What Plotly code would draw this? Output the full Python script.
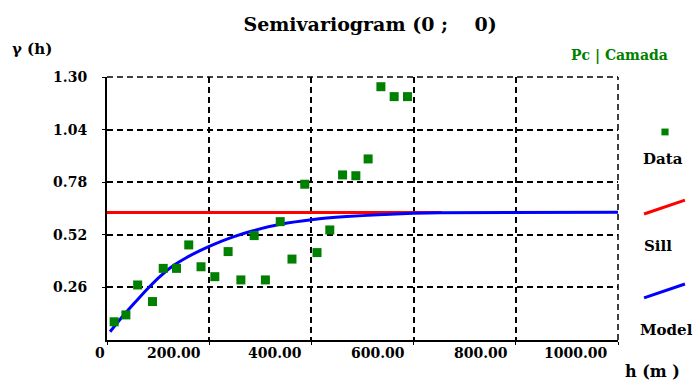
import plotly.graph_objects as go

# ---- data ----
lag_h = [14, 37, 60, 89, 110, 136, 160, 184, 211, 237, 262, 288, 310, 339,
         362, 387, 411, 436, 461, 487, 511, 536, 562, 588]
gamma_data = [0.090, 0.124, 0.272, 0.190, 0.354, 0.354, 0.470, 0.362, 0.313,
              0.437, 0.297, 0.516, 0.297, 0.585, 0.400, 0.770, 0.432, 0.544,
              0.816, 0.812, 0.895, 1.252, 1.203, 1.203]

sill_h = [0, 655]
sill_gamma = [0.63, 0.63]

model_h = [6, 25, 51, 78, 104, 130, 156, 182, 208, 247, 286, 339, 404, 469,
           531, 600, 652, 1000]
model_gamma = [0.041, 0.100, 0.175, 0.250, 0.315, 0.368, 0.408, 0.442, 0.472,
               0.510, 0.540, 0.572, 0.596, 0.610, 0.619, 0.626, 0.629, 0.631]

x_ticks = [0, 200, 400, 600, 800, 1000]
x_tick_labels = ["0", "200.00", "400.00", "600.00", "800.00", "1000.00"]
y_ticks = [0.26, 0.52, 0.78, 1.04, 1.30]
y_tick_labels = ["0.26", "0.52", "0.78", "1.04", "1.30"]

title_text = "Semivariogram (0 ;\u00a0\u00a0\u00a0\u00a00)"
y_label = "γ (h)"
x_label = "h (m )"
subtitle = "Pc | Camada"
legend_names = ["Data", "Sill", "Model"]

# ---- styles ----
FONT = "DejaVu Serif"
GREEN = "#008000"
RED = "#ff0000"
BLUE = "#0000ff"
GRID_DASH = "6px,4px"
x_label_shift = [0, -6, -7, -7, -6, -8]

fig = go.Figure()
fig.add_trace(go.Scatter(x=sill_h, y=sill_gamma, mode="lines",
                         line=dict(color=RED, width=3), name=legend_names[1]))
fig.add_trace(go.Scatter(x=model_h, y=model_gamma, mode="lines",
                         line=dict(color=BLUE, width=3, shape="spline", smoothing=0.6),
                         name=legend_names[2]))
fig.add_trace(go.Scatter(x=lag_h, y=gamma_data, mode="markers",
                         marker=dict(symbol="square", size=9, color=GREEN),
                         name=legend_names[0]))

annotations = []
for v, lab, sh in zip(x_ticks, x_tick_labels, x_label_shift):
    annotations.append(dict(x=v, xref="x", y=0, yref="paper", text=lab,
                            showarrow=False, xanchor="right", yanchor="top",
                            xshift=sh, yshift=-3,
                            font=dict(family=FONT, size=14, color="black", weight="bold")))

annotations += [
    dict(x=-0.147, y=1.106, xref="paper", yref="paper", text=y_label,
         showarrow=False, xanchor="center", yanchor="middle",
         font=dict(family=FONT, size=15, color="black", weight="bold")),
    dict(x=1.102, y=1.08, xref="paper", yref="paper", text=subtitle,
         showarrow=False, xanchor="right", yanchor="middle",
         font=dict(family=FONT, size=14, color=GREEN, weight="bold")),
    dict(x=1.068, y=-0.118, xref="paper", yref="paper", text=x_label,
         showarrow=False, xanchor="center", yanchor="middle",
         font=dict(family=FONT, size=16, color="black", weight="bold")),
    dict(x=1.088, y=0.688, xref="paper", yref="paper", text=legend_names[0],
         showarrow=False, xanchor="center", yanchor="middle",
         font=dict(family=FONT, size=15, color="black", weight="bold")),
    dict(x=1.078, y=0.357, xref="paper", yref="paper", text=legend_names[1],
         showarrow=False, xanchor="center", yanchor="middle",
         font=dict(family=FONT, size=15, color="black", weight="bold")),
    dict(x=1.094, y=0.038, xref="paper", yref="paper", text=legend_names[2],
         showarrow=False, xanchor="center", yanchor="middle",
         font=dict(family=FONT, size=15, color="black", weight="bold")),
]

shapes = [
    # dashed frame on top and right (grid lines at range ends)
    dict(type="line", xref="paper", yref="paper", x0=0, x1=1, y0=1, y1=1,
         layer="below", line=dict(color="black", width=1.5, dash=GRID_DASH)),
    dict(type="line", xref="paper", yref="paper", x0=1, x1=1, y0=0, y1=1,
         layer="below", line=dict(color="black", width=1.5, dash=GRID_DASH)),
    # custom legend
    dict(type="rect", xref="paper", yref="paper", x0=1.085, x1=1.099,
         y0=0.778, y1=0.804, fillcolor=GREEN, line=dict(width=0)),
    dict(type="line", xref="paper", yref="paper", x0=1.051, y0=0.479,
         x1=1.131, y1=0.532, line=dict(color=RED, width=3)),
    dict(type="line", xref="paper", yref="paper", x0=1.051, y0=0.160,
         x1=1.131, y1=0.213, line=dict(color=BLUE, width=3)),
]

fig.update_layout(
    width=693, height=381,
    margin=dict(l=107, r=75, t=77, b=41),
    paper_bgcolor="white", plot_bgcolor="white",
    showlegend=False,
    font=dict(family=FONT, size=14, color="black", weight="bold"),
    title=dict(text=title_text, x=0.534, xanchor="center", xref="container",
               y=1 - 24 / 381, yanchor="middle", yref="container",
               font=dict(family=FONT, size=19, color="black", weight="bold")),
    annotations=annotations,
    shapes=shapes,
)
fig.update_xaxes(range=[0, 1000], tickvals=x_ticks, showticklabels=False,
                 showgrid=True, gridcolor="black", griddash=GRID_DASH, gridwidth=1.5,
                 showline=True, linecolor="black", linewidth=2,
                 ticks="outside", ticklen=3, tickcolor="black", zeroline=False)
fig.update_yaxes(range=[0, 1.30], tickvals=y_ticks, ticktext=y_tick_labels,
                 showgrid=True, gridcolor="black", griddash=GRID_DASH, gridwidth=1.5,
                 showline=True, linecolor="black", linewidth=2,
                 ticks="outside", ticklen=3, tickcolor="black", zeroline=False,
                 ticklabelstandoff=12,
                 tickfont=dict(family=FONT, size=14, color="black", weight="bold"))

fig.write_html("out.html")
